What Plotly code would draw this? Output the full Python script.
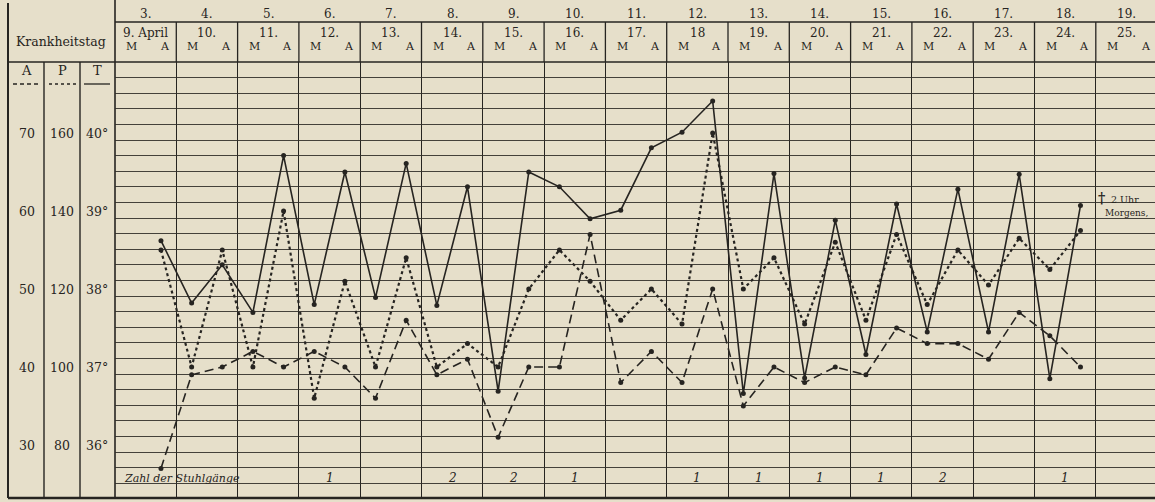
import plotly.graph_objects as go

# ---------------- data ----------------
illness_days = [f"{d}." for d in range(3, 20)]
dates = ["9. April", "10.", "11.", "12.", "13.", "14.", "15.", "16.", "17.", "18",
         "19.", "20.", "21.", "22.", "23.", "24.", "25."]
# half-day slot index (0 = morning 9 April, 1 = evening 9 April, ...)
slots = list(range(1, 32))
temperature = [38.62, 37.82, 38.31, 37.70, 39.71, 37.80, 39.50, 37.89, 39.61, 37.79,
               39.31, 36.69, 39.50, 39.31, 38.90, 39.01, 39.81, 40.01, 40.41, 36.66,
               39.48, 36.86, 38.88, 37.16, 39.09, 37.45, 39.28, 37.45, 39.47, 36.85, 39.07]
pulse = [130, 100, 130, 100, 140, 92, 122, 100, 128, 100, 106, 100, 120, 130, 122, 112,
         120, 111, 160, 120, 128, 111, 132, 112, 134, 116, 130, 121, 133, 125, 135]
respiration = [27, 39, 40, 42, 40, 42, 40, 36, 46, 39, 41, 31, 40, 40, 57, 38,
               42, 38, 50, 35, 40, 38, 40, 39, 45, 43, 43, 41, 47, 44, 40]
# stool counts: day-column index (0 = 9 April) and count
stool_day_idx = [3, 5, 6, 7, 9, 10, 11, 12, 13, 15]
stool_counts = ["1", "2", "2", "1", "1", "1", "1", "1", "2", "1"]
# scale labels
a_ticks = [70, 60, 50, 40, 30]
p_ticks = [160, 140, 120, 100, 80]
t_ticks = [40, 39, 38, 37, 36]
t_tick_text = ["40°", "39°", "38°", "37°", "36°"]

# ---------------- layout geometry ----------------
W, H = 1155, 502
PX_LEFT, PX_TOP, PX_BOTTOM = 115, 62, 498
SLOT_PX = 30.65
DEG_PX = 78.0
PX_40 = 133
GRID_PX = 15.6

INK = "#262421"
GRID = "rgba(50,48,42,0.9)"
BG = "#e6dfca"
FONT = "DejaVu Serif"


def t_at(pyy):
    return 40 - (pyy - PX_40) / DEG_PX


t_range = [t_at(PX_BOTTOM), t_at(PX_TOP)]
p_range = [80 + (t - 36) * 20 for t in t_range]
a_range = [30 + (t - 36) * 10 for t in t_range]


def fx(px):
    return px / W


def fy(pyy):
    return 1 - pyy / H


xs = [s + 0.5 for s in slots]

fig = go.Figure()
fig.add_trace(go.Scatter(x=xs, y=respiration, yaxis="y3", mode="lines+markers",
                         line=dict(color=INK, width=1.6, dash="9px,5px"),
                         marker=dict(size=5, color=INK), name="A", hoverinfo="skip"))
fig.add_trace(go.Scatter(x=xs, y=pulse, yaxis="y2", mode="lines+markers",
                         line=dict(color=INK, width=2.2, dash="dot"),
                         marker=dict(size=5, color=INK), name="P", hoverinfo="skip"))
fig.add_trace(go.Scatter(x=xs, y=temperature, yaxis="y", mode="lines+markers",
                         line=dict(color=INK, width=1.6),
                         marker=dict(size=5, color=INK), name="T", hoverinfo="skip"))

shapes = []


def line(x0, y0, x1, y1, w=1.2, dash="solid", color=INK):
    shapes.append(dict(type="line", xref="paper", yref="paper",
                       x0=fx(x0), y0=fy(y0), x1=fx(x1), y1=fy(y1),
                       line=dict(color=color, width=w, dash=dash), layer="below"))


# frame & header lines
line(8, 3, 8, PX_BOTTOM, 2)
line(PX_LEFT, 0, PX_LEFT, PX_BOTTOM, 1.6)
line(8, PX_TOP, W, PX_TOP, 1.6)
line(PX_LEFT, 22, W, 22, 1.4)
line(8, PX_BOTTOM, W, PX_BOTTOM, 2.5)
line(44, PX_TOP, 44, PX_BOTTOM, 1.4)
line(80, PX_TOP, 80, PX_BOTTOM, 1.4)
for i in range(1, 17):
    xp = PX_LEFT + 2 * SLOT_PX * i
    line(xp, 22, xp, PX_TOP, 1.3)

# legend-style underlines in the A / P / T header
line(13, 84, 40, 84, 1.3, "4px,3px")
line(49, 84, 76, 84, 1.6, "dot")
line(84, 84, 110, 84, 1.3)

ann = []


def text(x, y, s, size=12, xref="paper", yref="paper", xanchor="center", italic=False):
    ann.append(dict(x=x, y=y, xref=xref, yref=yref, text=f"<i>{s}</i>" if italic else s,
                    showarrow=False, xanchor=xanchor, yanchor="middle",
                    font=dict(family=FONT, size=size, color=INK)))


for i, d in enumerate(illness_days):
    text(2 * i + 1, fy(14), d, 12, xref="x")
for i, d in enumerate(dates):
    text(2 * i + 1, fy(33), d, 12, xref="x")
    text(2 * i + 0.3, fy(46), "M", 11, xref="x", xanchor="left")
    text(2 * i + 1.85, fy(46), "A", 11, xref="x", xanchor="right")

text(fx(61), fy(41), "Krankheitstag", 12.5)
text(fx(26), fy(71), "A", 13)
text(fx(62), fy(71), "P", 13)
text(fx(97), fy(71), "T", 13)

for v in a_ticks:
    text(fx(27), v, str(v), 12.5, yref="y3")
for v in p_ticks:
    text(fx(62), v, str(v), 12.5, yref="y2")
for v, s in zip(t_ticks, t_tick_text):
    text(fx(97), v, s, 12.5, yref="y")

text(fx(122), fy(478), "Zahl der Stuhlgänge", 11, xanchor="left", italic=True)
for i, c in zip(stool_day_idx, stool_counts):
    text(2 * i + 1, fy(478), c, 12, xref="x", italic=True)

text(fx(1101), fy(198), "<b>†</b>", 14)
text(fx(1109), fy(199), "2 Uhr", 9.5, xanchor="left")
text(fx(1103), fy(213), "Morgens,", 9, xanchor="left")

fig.update_layout(
    width=W, height=H,
    margin=dict(l=0, r=0, t=0, b=0),
    paper_bgcolor=BG, plot_bgcolor=BG,
    showlegend=False,
    shapes=shapes,
    annotations=ann,
    xaxis=dict(domain=[fx(PX_LEFT), 1], range=[0, (W - PX_LEFT) / SLOT_PX],
               tick0=0, dtick=2, showgrid=True, gridcolor=INK, gridwidth=1.3,
               showticklabels=False, ticks="", zeroline=False, showline=False),
    yaxis=dict(domain=[fy(PX_BOTTOM), fy(PX_TOP)], range=t_range,
               tick0=t_at(PX_TOP + GRID_PX), dtick=GRID_PX / DEG_PX,
               showgrid=True, gridcolor=GRID, gridwidth=1,
               showticklabels=False, ticks="", zeroline=False, showline=False),
    yaxis2=dict(range=p_range, overlaying="y", anchor="x", visible=False),
    yaxis3=dict(range=a_range, overlaying="y", anchor="x", visible=False),
)

fig.write_html(
    "out.html",
    config={"displayModeBar": False},
    post_script=f"document.body.style.margin='0';document.body.style.background='{BG}';",
)
